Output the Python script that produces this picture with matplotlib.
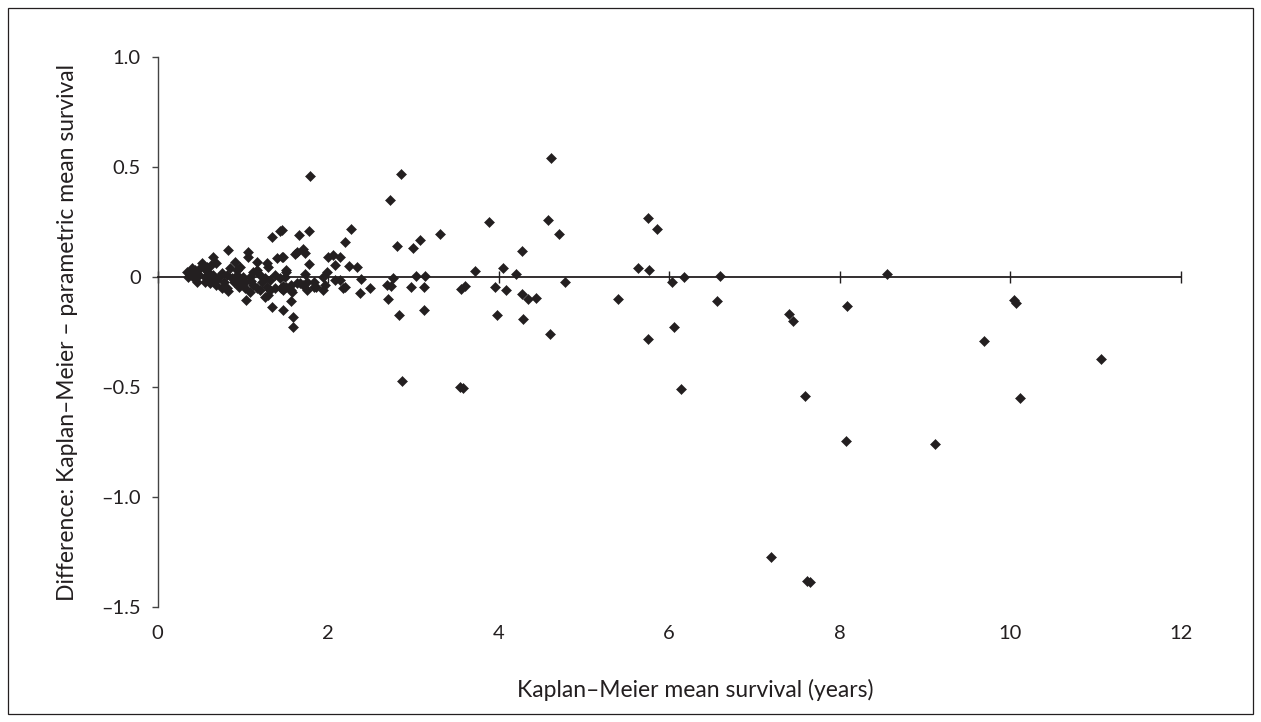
import matplotlib.pyplot as plt
from matplotlib.patches import Rectangle

plt.rcParams['font.family'] = ['Lato', 'DejaVu Sans']

# Kaplan-Meier mean survival (years) and difference KM - parametric
km_dense = [0.38, 0.44, 0.50, 0.54, 0.59, 0.65, 0.69, 0.75, 0.81, 0.87, 0.93, 0.97, 1.02, 1.08,
            1.12, 1.16, 1.20, 1.26, 1.32, 1.38, 1.43, 1.49,
            0.46, 0.56, 0.61, 0.69, 0.81, 0.95, 1.02, 1.16, 1.28, 1.32, 1.38, 1.45, 1.51, 1.26, 1.30,
            0.34, 0.40, 0.52, 0.58, 0.63, 0.85, 0.97, 1.16, 0.93, 0.97, 1.12, 1.08, 1.20,
            1.34, 1.04, 0.82, 0.76, 0.82, 0.65, 1.06, 1.06, 0.91, 0.69, 1.34, 1.44, 1.28, 1.30,
            1.40, 1.46, 0.36, 0.42, 0.48, 0.55, 0.62, 0.72, 0.78, 0.90, 1.00, 1.10, 1.22, 0.43]
diff_dense = [0.018, 0.033, 0.041, 0.041, 0.026, 0.010, -0.012, 0.018, 0.010, -0.005, 0.010, -0.012,
              -0.020, 0.003, 0.026, 0.033, 0.010, -0.005, -0.012, 0.010, -0.005, 0.003,
              -0.020, -0.020, -0.027, -0.035, -0.050, -0.043, -0.050, -0.050, -0.043, -0.058, -0.050,
              -0.050, -0.043, -0.088, -0.080,
              0.026, 0.041, 0.064, 0.048, 0.056, 0.041, 0.048, 0.071, 0.033, -0.035, -0.035, -0.065, -0.058,
              -0.136, -0.103, -0.061, -0.050, 0.124, 0.094, 0.116, 0.094, 0.071, 0.064, 0.185, 0.210,
              0.064, 0.048, 0.086, 0.094, 0.000, 0.000, 0.010, 0.000, 0.000, 0.000, -0.020, -0.020,
              0.000, -0.015, -0.020, 0.020]

km_mid = [1.79, 2.27, 2.20, 1.46, 1.66, 1.77, 1.61, 1.71, 1.73, 1.47, 2.00, 2.06, 2.14, 2.08, 1.78,
          2.24, 2.34, 1.50, 1.73, 1.99, 1.67, 1.75, 1.83, 1.83, 1.94, 1.96, 2.08, 2.14, 2.20, 2.18,
          1.47, 1.47, 1.57, 1.58, 1.57, 1.47, 1.59, 1.59, 1.86, 1.75, 1.94, 1.63, 1.71, 1.63, 1.57,
          1.51, 2.39, 2.37, 2.49]
diff_mid = [0.46, 0.22, 0.16, 0.215, 0.19, 0.21, 0.106, 0.127, 0.109, 0.094, 0.094, 0.10, 0.094,
            0.056, 0.06, 0.053, 0.048, 0.026, 0.015, 0.026, -0.027, -0.02, -0.02, -0.043, 0.003,
            -0.035, -0.012, -0.012, -0.043, -0.05, -0.04, -0.058, -0.035, -0.065, -0.106, -0.149,
            -0.18, -0.225, -0.043, -0.058, -0.058, -0.027, -0.035, 0.116, -0.06, 0.033,
            -0.01, -0.07, -0.05]

km_far = [2.73, 2.85, 2.81, 3.00, 3.08, 3.31, 3.89, 4.58, 4.62, 4.71, 4.27, 3.72, 4.05, 4.20,
          2.76, 3.03, 3.14, 2.69, 2.74, 2.70, 2.97, 3.12, 3.56, 3.60, 3.96, 4.09, 4.27, 4.34, 4.44,
          4.78, 2.83, 3.12, 3.98, 4.29, 4.60, 2.87, 3.55, 3.58,
          5.75, 5.86, 5.64, 5.76, 6.03, 6.17, 6.60, 5.40, 6.56, 7.40, 7.45, 8.09, 8.55, 6.06, 5.75,
          6.14, 7.59, 7.19, 7.62, 7.65, 8.07, 9.12, 9.69, 10.07, 10.05, 10.12, 11.07]
diff_far = [0.35, 0.47, 0.14, 0.135, 0.17, 0.195, 0.25, 0.26, 0.54, 0.195, 0.12, 0.03, 0.04, 0.016,
            -0.005, 0.007, 0.007, -0.035, -0.04, -0.10, -0.045, -0.045, -0.055, -0.04, -0.045, -0.06,
            -0.076, -0.10, -0.095, -0.02, -0.17, -0.147, -0.17, -0.19, -0.26, -0.47, -0.50, -0.505,
            0.27, 0.22, 0.04, 0.033, -0.02, 0.0, 0.006, -0.10, -0.11, -0.165, -0.20, -0.13, 0.015,
            -0.225, -0.28, -0.51, -0.54, -1.27, -1.38, -1.385, -0.745, -0.757, -0.29, -0.118, -0.105,
            -0.55, -0.37]

x_ticks = [0, 2, 4, 6, 8, 10, 12]
y_ticks = [1.0, 0.5, 0, -0.5, -1.0, -1.5]
y_labels = ['1.0', '0.5', '0', '\u20130.5', '\u20131.0', '\u20131.5']

dark = '#231f20'

fig = plt.figure(figsize=(12.61, 7.22), dpi=100)
ax = fig.add_axes([0.125, 0.1589, 0.8113, 0.7618])

km = km_dense + km_mid + km_far
diff = diff_dense + diff_mid + diff_far
ax.plot(km, diff, linestyle='none', marker='D', markersize=4.9, color=dark,
        markeredgewidth=0.4, zorder=3)

ax.set_xlim(0, 12)
ax.set_ylim(-1.5, 1.0)

ax.spines['top'].set_visible(False)
ax.spines['right'].set_visible(False)
ax.spines['bottom'].set_position(('data', 0))
ax.spines['bottom'].set_color(dark)
ax.spines['left'].set_color('#444444')
ax.spines['bottom'].set_linewidth(1.3)
ax.spines['left'].set_linewidth(1.0)

ax.set_xticks(x_ticks)
ax.tick_params(axis='x', direction='inout', length=8, width=1.0, color=dark, labelbottom=False)
ax.set_yticks(y_ticks)
ax.set_yticklabels(y_labels)
ax.tick_params(axis='y', direction='out', length=4, width=1.0, color='#444444',
               labelsize=14.5, pad=8, labelcolor=dark)

# x tick labels at the bottom of the plot area
sec = ax.secondary_xaxis('bottom')
sec.set_xticks(x_ticks)
sec.set_xticklabels([str(t) for t in x_ticks])
sec.spines['bottom'].set_visible(False)
sec.tick_params(axis='x', length=0, pad=13, labelsize=14.5, labelcolor=dark)
sec.set_xlabel('Kaplan\u2013Meier mean survival (years)', fontsize=16.5, color=dark, labelpad=26)
sec.xaxis.label.set_x(0.526)

ax.set_ylabel('Difference: Kaplan\u2013Meier \u2013 parametric mean survival', fontsize=16.5,
              color=dark, labelpad=17)

fig.patches.append(Rectangle((0.0063, 0.011), 0.9874, 0.978, transform=fig.transFigure,
                             fill=False, linewidth=0.9, edgecolor=dark))

fig.savefig('out.png', dpi=100)
